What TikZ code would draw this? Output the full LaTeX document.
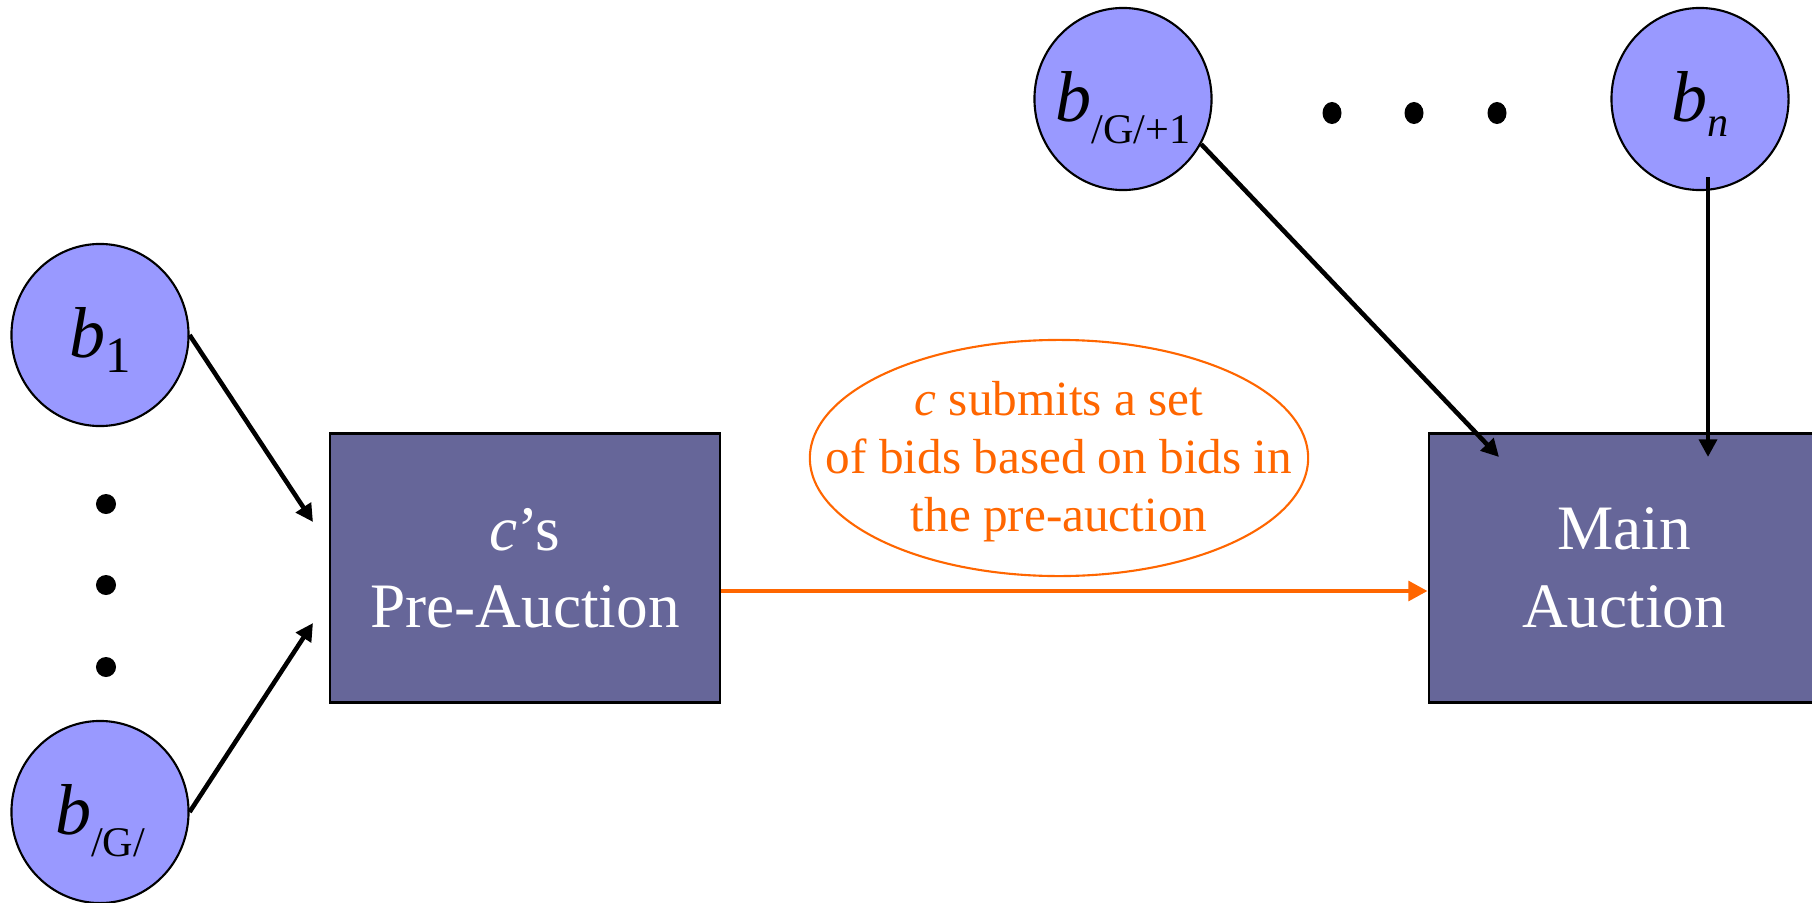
\documentclass[tikz,border=0pt]{standalone}
\usepackage{fontspec}
\setmainfont{Liberation Serif}
\usetikzlibrary{shapes.geometric,arrows.meta,positioning}
\definecolor{bidblue}{HTML}{9999FF}
\definecolor{auctiongray}{HTML}{666699}
\definecolor{pumpkin}{HTML}{FF6600}
% b with a lowered index: size of index, drop, index
\newcommand{\bidder}[3]{\fontsize{20.5}{20.5}\selectfont\textit{b}\raisebox{-#2}{\fontsize{#1}{#1}\selectfont #3}}
\tikzset{
	bidnode/.style={ellipse, draw, fill=bidblue, line width=0.6pt, inner sep=0pt, minimum width=1.77cm, minimum height=1.82cm},
	bidlabel/.style={text height=0.44cm, text depth=0pt, inner sep=0pt},
	housenode/.style={rectangle, draw, fill=auctiongray, line width=0.7pt, minimum width=3.9cm, minimum height=2.69cm, text=white, align=center, font=\fontsize{18}{22}\selectfont},
	feed/.style={-{Triangle[length=5pt,width=5pt]}, line width=1.3pt},
}
\begin{document}
\begin{tikzpicture}[x=0.01cm, y=-0.01cm]
			\useasboundingbox (0,0) rectangle (1812,903);
			% bidders
			\node[bidnode, label={[bidlabel]center:\bidder{14.5}{4.3pt}{1}}] (b1) at (100,335) {};
			\node[bidnode, label={[bidlabel]center:\bidder{12}{6.5pt}{/G/}}] (bG) at (100,812) {};
			\node[bidnode, label={[bidlabel]center:\bidder{12}{6.5pt}{/G/+1}}] (bG1) at (1123,99) {};
			\node[bidnode, label={[bidlabel]center:\bidder{12}{4.5pt}{\textit{n}}}] (bn) at (1700,99) {};
			\fill (106,504) circle[radius=0.1cm];
			\fill (106,585) circle[radius=0.1cm];
			\fill (106,667) circle[radius=0.1cm];
			\fill (1332,113) ellipse[x radius=0.095cm, y radius=0.11cm];
			\fill (1414,113) ellipse[x radius=0.095cm, y radius=0.11cm];
			\fill (1497,113) ellipse[x radius=0.095cm, y radius=0.11cm];
			% auctions
			\node[housenode] (pre) at (525,568) {\textit{c}’s\\Pre-Auction};
			\node[housenode] (main) at (1624,568) {Main\\Auction};
			\node[ellipse, draw=pumpkin, line width=0.6pt, minimum width=4.98cm, minimum height=2.36cm] (note) at (1059,458) {};
			\node[text=pumpkin, align=center, font=\fontsize{14}{16.5}\selectfont] (notetext) at (1059,462) {\textit{c} submits a set\\of bids based on bids in\\the pre-auction};
			% connectors
			\coordinate (in1) at (313,522);
			\coordinate (in2) at (313,623);
			\coordinate (in3) at (1499,457);
			\coordinate (in4) at (1708,457);
			\coordinate (out4) at (1708,177);
			\coordinate (flow) at (0,591);
			\draw[feed] (b1.east) -- (in1);
			\draw[feed] (bG.east) -- (in2);
			\draw[feed] (bG1.-30) -- (in3);
			\draw[feed] (out4) -- (in4);
			\draw[-{Triangle[length=5.5pt,width=5.5pt]}, pumpkin, line width=1.4pt] (pre.east |- flow) -- (main.west |- flow);
\end{tikzpicture}
\end{document}
